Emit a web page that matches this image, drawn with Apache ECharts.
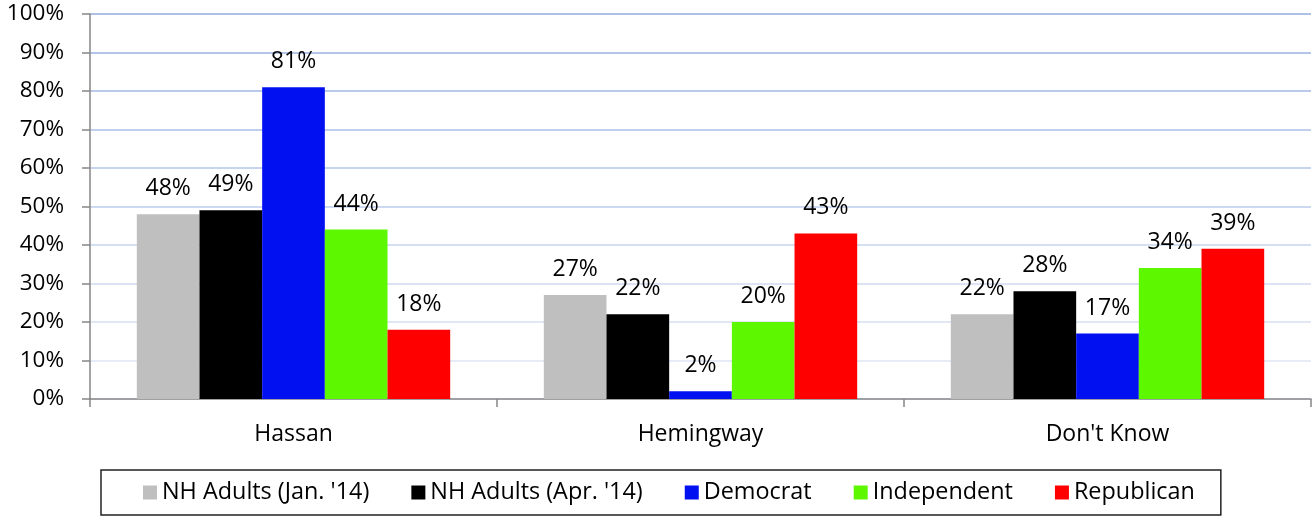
<html>
<head>
<meta charset="utf-8">
<script src="https://cdn.jsdelivr.net/npm/echarts@6/dist/echarts.min.js"></script>
<style>
html, body { margin: 0; padding: 0; background: #fff; }
#main { width: 1316px; height: 516px; }
</style>
</head>
<body>
<div id="main"></div>
<script>
var categories = ['Hassan', 'Hemingway', "Don't Know"];
var seriesNames = ['NH Adults (Jan. \'14)', 'NH Adults (Apr. \'14)', 'Democrat', 'Independent', 'Republican'];
var janData = [48, 27, 22];
var aprData = [49, 22, 28];
var demData = [81, 2, 17];
var indData = [44, 20, 34];
var repData = [18, 43, 39];
var colors = ['#bfbfbf', '#000000', '#0010f0', '#5df800', '#ff0000'];

var myChart = echarts.init(document.getElementById('main'));
var font = '"Open Sans", sans-serif';

function makeSeries(name, data, color) {
    return {
        name: name,
        type: 'bar',
        data: data,
        barGap: 0,
        barCategoryGap: '23%',
        itemStyle: { color: color },
        label: {
            show: true,
            position: 'top',
            distance: 14,
            formatter: '{c}%',
            color: '#000',
            fontFamily: font,
            fontSize: 23
        }
    };
}

var allData = [janData, aprData, demData, indData, repData];
var series = [];
for (var i = 0; i < seriesNames.length; i++) {
    series.push(makeSeries(seriesNames[i], allData[i], colors[i]));
}

// gridlines fade from light (bottom) to a stronger blue (top)
var gridColors = ['#e4eaf6', '#dde5f5', '#d6e0f3', '#cfdaf1', '#c6d4ef', '#bccdec',
    '#b3c6ea', '#aabfe7', '#a2b9e5', '#9ab3e3', '#93aee1'];

myChart.setOption({
    animation: false,
    backgroundColor: '#fff',
    grid: { left: 90, right: 5, top: 14, bottom: 117 },
    legend: {
        bottom: 1,
        left: 101,
        itemWidth: 14,
        itemHeight: 14,
        itemGap: 42,
        padding: [11, 26, 11, 42],
        borderColor: '#222',
        borderWidth: 1.5,
        icon: 'rect',
        textStyle: { fontFamily: font, fontSize: 23.4, color: '#000' },
        data: seriesNames
    },
    xAxis: {
        type: 'category',
        data: categories,
        axisLine: { lineStyle: { color: '#868686', width: 1.5 } },
        axisTick: { show: true, length: 8, lineStyle: { color: '#868686', width: 1.5 } },
        axisLabel: { margin: 24, fontFamily: font, fontSize: 23, color: '#000' }
    },
    yAxis: {
        type: 'value',
        min: 0,
        max: 100,
        interval: 10,
        axisLine: { show: true, lineStyle: { color: '#868686', width: 1.5 } },
        axisTick: { show: true, length: 8, lineStyle: { color: '#868686', width: 1.5 } },
        axisLabel: { margin: 26, formatter: '{value}%', fontFamily: font, fontSize: 22.5, color: '#000' },
        splitLine: { lineStyle: { color: gridColors, width: 1.5 } }
    },
    series: series
});
</script>
</body>
</html>
